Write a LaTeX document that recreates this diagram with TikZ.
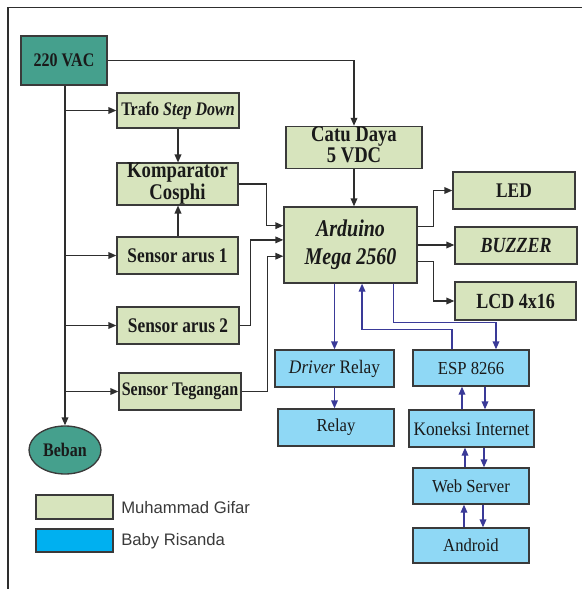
\documentclass[tikz,border=0pt]{standalone}
\usepackage{fontspec}
\setmainfont{Liberation Serif}
\newfontfamily\legfont{Liberation Sans}
\usetikzlibrary{arrows.meta,calc,shapes.geometric}
\definecolor{gfill}{HTML}{D7E4BD}
\definecolor{bfill}{HTML}{8FD8F5}
\definecolor{tealc}{HTML}{45A08D}
\definecolor{legblue}{HTML}{00B0F0}
\definecolor{bord}{HTML}{3A3A3A}
\definecolor{lcol}{HTML}{2E2E2E}
\definecolor{bcol}{HTML}{3A3A98}
\definecolor{txt}{HTML}{1A1A1A}
\newcommand\gs[1]{\scalebox{1}[1.2]{#1}}
\newcommand\gm[1]{\scalebox{1}[1.2]{\begin{tabular}{@{}c@{}}#1\end{tabular}}}
\newcommand\bs[1]{\scalebox{1}[1.1]{#1}}
\begin{document}
\begin{tikzpicture}[x=0.75pt,y=-0.75pt,
  rect/.style args={#1/#2/#3/#4}{minimum width={(#3-#1)*0.75pt}, minimum height={(#4-#2)*0.75pt}, at={({(#1+#3)/2},{(#2+#4)/2})}},
  base/.style={draw=bord, line width=1pt, inner sep=0pt, align=center, text=txt},
  gbox/.style={base, fill=gfill, font=\bfseries\fontsize{12}{14}\selectfont},
  tbox/.style={base, fill=tealc, font=\bfseries\fontsize{12}{14}\selectfont},
  bbox/.style={base, fill=bfill, font=\fontsize{12.5}{14}\selectfont},
  arr/.style={draw=lcol, line width=1pt, -{Triangle[length=6pt,width=5pt]}},
  barr/.style={draw=bcol, line width=1pt, -{Triangle[length=6pt,width=5pt]}}]
\useasboundingbox (0,0) rectangle (582,589);
\draw[lcol, line width=1.4pt] (8,589) -- (8,7.5) -- (582,7.5);

% green / teal boxes
\node[tbox, rect=21/36/107/85] (vac) {\gs{220 VAC}};
\node[gbox, rect=117/93/239/128] (trafo) {\gs{Trafo \textit{Step Down}}};
\node[gbox, rect=117/165/238/203, font=\bfseries\fontsize{14}{12}\selectfont] (komp) {\gm{Komparator\\Cosphi}};
\node[gbox, rect=117/237/238/274, font=\bfseries\fontsize{13}{14}\selectfont] (s1) {\gs{Sensor arus 1}};
\node[gbox, rect=117/307/239/344, font=\bfseries\fontsize{13}{14}\selectfont] (s2) {\gs{Sensor arus 2}};
\node[gbox, rect=119/373/241/410] (st) {\gs{Sensor Tegangan}};
\node[ellipse, base, fill=tealc, minimum width=54pt, minimum height=36pt, font=\bfseries\fontsize{12}{14}\selectfont] (beban) at (65,450) {\gs{Beban}};
\node[gbox, rect=286/127/422/168, font=\bfseries\fontsize{14}{13}\selectfont] (catu) {\gm{Catu Daya\\5 VDC}};
\node[gbox, rect=284/207/417/283, font=\bfseries\itshape\fontsize{15}{17}\selectfont] (ard) {\gm{Arduino\\Mega 2560}};
\node[gbox, rect=453/172/575/209, font=\bfseries\fontsize{13}{14}\selectfont] (led) {\gs{LED}};
\node[gbox, rect=455/227/577/264, font=\bfseries\itshape\fontsize{13.5}{14}\selectfont] (buz) {\gs{BUZZER}};
\node[gbox, rect=455/282/576/320, font=\bfseries\fontsize{13.5}{14}\selectfont] (lcd) {\gs{LCD 4x16}};

% blue boxes
\node[bbox, rect=275/350/394/387, font=\fontsize{13}{14}\selectfont] (drv) {\bs{\textit{Driver} Relay}};
\node[bbox, rect=278/409/394/446] (relay) {\bs{Relay}};
\node[bbox, rect=413/350/529/386] (esp) {\bs{ESP 8266}};
\node[bbox, rect=409/410/534/447, font=\fontsize{13}{14}\selectfont] (kon) {\bs{Koneksi Internet}};
\node[bbox, rect=413/468/529/504] (web) {\bs{Web Server}};
\node[bbox, rect=413/528/529/563] (andr) {\bs{Android}};

% legend
\node[base, fill=gfill, rect=36/495/113/519] (leg1) {};
\node[base, fill=legblue, rect=36/529/113/552] (leg2) {};
\node[anchor=west, inner sep=0pt, text=bord, font=\legfont\fontsize{12.5}{14}\selectfont] (leg1t) at (121,508) {Muhammad Gifar};
\node[anchor=west, inner sep=0pt, text=bord, font=\legfont\fontsize{12.5}{14}\selectfont] (leg2t) at (121,541) {Baby Risanda};

% black connectors
\draw[arr] (vac.east) -| (catu.north);
\draw[arr] (vac.south -| beban.north) -- (beban.north);
\draw[arr] (beban.north |- trafo.west) -- (trafo.west);
\draw[arr] (beban.north |- s1.west) -- (s1.west);
\draw[arr] (beban.north |- s2.west) -- (s2.west);
\draw[arr] (beban.north |- st.west) -- (st.west);
\draw[arr] (trafo.south) -- (trafo.south |- komp.north);
\draw[arr] (trafo.south |- s1.north) -- (trafo.south |- komp.south);
\coordinate (a1) at ($(ard.north west)!0.25!(ard.south west)$);
\coordinate (a2) at ($(ard.north west)!0.434!(ard.south west)$);
\coordinate (a3) at ($(ard.north west)!0.645!(ard.south west)$);
\draw[arr] (komp.east) -- ++(28,0) |- (a1);
\draw[arr] (s2.east) -- ++(11,0) |- (a2);
\draw[arr] (st.east) -- ++(26,0) |- (a3);
\draw[arr] (catu.south) -- (catu.south |- ard.north);
\coordinate (e1) at ($(ard.north east)!0.263!(ard.south east)$);
\coordinate (e3) at ($(ard.north east)!0.71!(ard.south east)$);
\draw[arr] (e1) -- ++(16,0) |- (led.west);
\draw[arr] (ard.east) -- (ard.east -| buz.west);
\draw[arr] (e3) -- ++(16,0) |- (lcd.west);

% blue connectors
\draw[barr] (ard.south -| drv.north) -- (drv.north);
\draw[barr] (drv.south) -- (drv.south |- relay.north);
\coordinate (b1) at ($(ard.south west)!0.586!(ard.south east)$);
\coordinate (b2) at ($(ard.south west)!0.82!(ard.south east)$);
\draw[barr] ($(esp.north)+(-19,0)$) -- ++(0,-20) -| (b1);
\draw[barr] (b2) -- ++(0,39) -| ($(esp.north)+(25,0)$);
\draw[barr] ($(kon.north)+(-9.5,0)$) -- ($(esp.south)+(-9,0)$);
\draw[barr] ($(esp.south)+(14,0)$) -- ($(kon.north)+(13.5,0)$);
\draw[barr] ($(web.north)+(-6,0)$) -- ($(kon.south)+(-6.5,0)$);
\draw[barr] ($(kon.south)+(12.5,0)$) -- ($(web.north)+(13,0)$);
\draw[barr] ($(andr.north)+(-7,0)$) -- ($(web.south)+(-7,0)$);
\draw[barr] ($(web.south)+(12,0)$) -- ($(andr.north)+(12,0)$);
\end{tikzpicture}
\end{document}
